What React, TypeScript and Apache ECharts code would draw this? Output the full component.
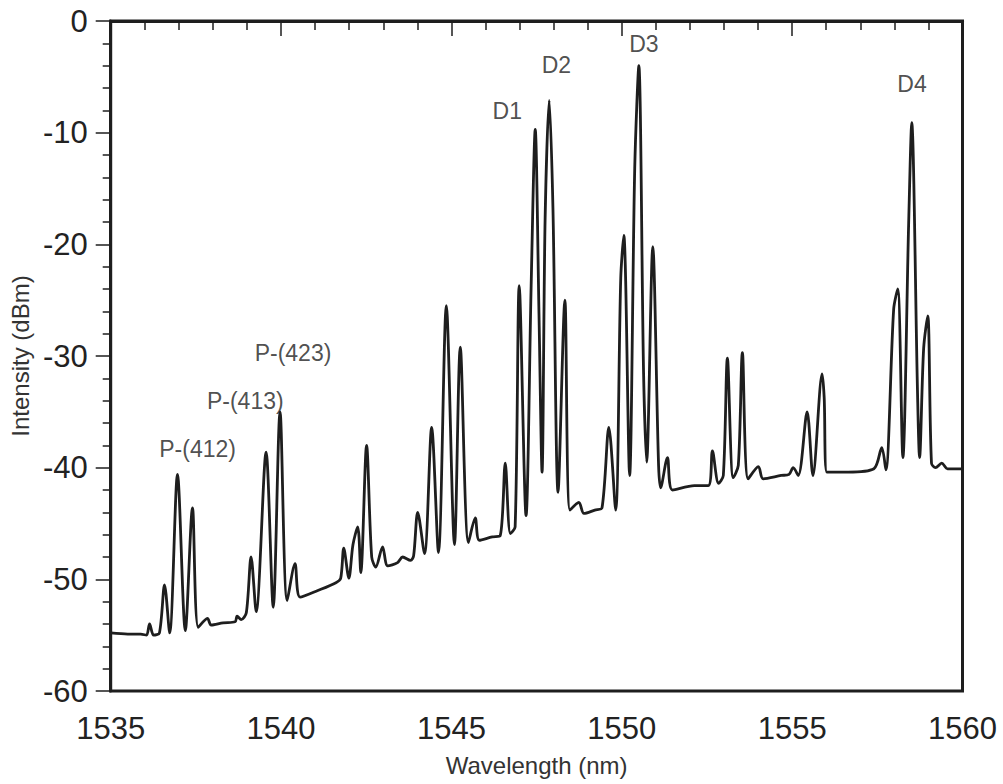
import React, { useEffect, useRef } from "react";
import * as echarts from "echarts";

// Spectrum trace (wavelength in nm, intensity in dBm)
const wavelengthNm = [
  1535.0, 1535.5, 1535.88, 1536.05, 1536.14, 1536.26, 1536.43, 1536.58, 1536.73, 1536.96,
  1537.19, 1537.4, 1537.57, 1537.84, 1537.95, 1538.3, 1538.65, 1538.71, 1538.83, 1538.98,
  1539.12, 1539.27, 1539.56, 1539.77, 1539.97, 1540.18, 1540.41, 1540.56, 1541.08, 1541.61,
  1541.75, 1541.84, 1541.99, 1542.11, 1542.25, 1542.34, 1542.51, 1542.66, 1542.78, 1542.98,
  1543.13, 1543.42, 1543.57, 1543.8, 1543.89, 1544.01, 1544.21, 1544.42, 1544.62, 1544.85,
  1545.09, 1545.26, 1545.5, 1545.7, 1545.82, 1546.2, 1546.43, 1546.58, 1546.73, 1546.87,
  1546.99, 1547.19, 1547.34, 1547.46, 1547.57, 1547.66, 1547.75, 1547.87, 1547.98, 1548.13,
  1548.33, 1548.48, 1548.74, 1548.89, 1549.21, 1549.42, 1549.62, 1549.82, 1549.97, 1550.06,
  1550.23, 1550.38, 1550.5, 1550.64, 1550.73, 1550.91, 1551.08, 1551.14, 1551.34, 1551.49,
  1552.13, 1552.54, 1552.66, 1552.84, 1552.98, 1553.1, 1553.27, 1553.42, 1553.54, 1553.71,
  1554.01, 1554.15, 1554.68, 1554.91, 1555.03, 1555.18, 1555.44, 1555.61, 1555.88, 1555.94,
  1556.02, 1556.64, 1557.4, 1557.63, 1557.75, 1557.98, 1558.1, 1558.25, 1558.42, 1558.51,
  1558.68, 1558.74, 1558.86, 1558.98, 1559.09, 1559.21, 1559.39, 1559.56, 1560.0,
];

const intensityDbm = [
  -54.8, -54.9, -54.9, -55.0, -54.0, -55.0, -54.8, -50.5, -54.8, -40.6,
  -54.6, -43.6, -54.3, -53.5, -54.1, -53.9, -53.8, -53.3, -53.6, -53.0,
  -48.0, -52.9, -38.6, -52.5, -35.0, -51.9, -48.6, -51.6, -51.0, -50.3,
  -49.9, -47.2, -49.9, -46.9, -45.3, -49.4, -38.0, -48.0, -48.9, -47.1,
  -48.8, -48.5, -48.0, -48.3, -47.9, -44.0, -47.7, -36.4, -47.6, -25.5,
  -46.9, -29.2, -46.7, -44.5, -46.5, -46.2, -46.1, -39.6, -45.9, -45.3,
  -23.7, -44.3, -23.7, -9.7, -26.2, -40.4, -17.7, -7.1, -16.8, -42.2,
  -25.0, -43.8, -43.1, -44.1, -43.8, -43.6, -36.4, -43.8, -23.0, -19.2,
  -40.7, -13.2, -4.0, -31.6, -39.5, -20.2, -39.8, -41.8, -39.1, -42.0,
  -41.6, -41.6, -38.5, -41.4, -40.7, -30.2, -40.9, -39.8, -29.7, -41.0,
  -39.9, -41.0, -40.7, -40.6, -40.0, -40.7, -35.0, -40.7, -31.6, -33.7,
  -40.4, -40.4, -40.1, -38.2, -40.2, -25.8, -24.0, -39.1, -18.1, -9.1,
  -33.3, -39.1, -29.3, -26.4, -39.6, -40.0, -39.6, -40.1, -40.1,
];

// Peak annotations
const annotationLabels = ["P-(412)", "P-(413)", "P-(423)", "D1", "D2", "D3", "D4"];
const annotationX = [1537.55, 1538.95, 1540.35, 1546.64, 1548.08, 1550.65, 1558.52];
const annotationY = [-38.3, -34.0, -29.7, -8.1, -3.9, -2.1, -5.6];

const FONT = "'Liberation Sans', Arial, Helvetica, sans-serif";
const INK = "#1e1e1e";

export default function App() {
  const ref = useRef<HTMLDivElement>(null);

  useEffect(() => {
    document.body.style.margin = "0";
    if (!ref.current) return;
    const chart = echarts.init(ref.current, undefined, { renderer: "svg" });

    const spectrum = wavelengthNm.map((w, i) => [w, intensityDbm[i]]);
    const notes = annotationLabels.map((t, i) => ({
      value: [annotationX[i], annotationY[i]],
      name: t,
    }));

    chart.setOption({
      animation: false,
      backgroundColor: "#ffffff",
      textStyle: { fontFamily: FONT },
      grid: {
        left: 108,
        right: 40.5,
        top: 21,
        bottom: 93,
        show: true,
        borderColor: INK,
        borderWidth: 3,
        backgroundColor: "transparent",
      },
      xAxis: {
        type: "value",
        min: 1535,
        max: 1560,
        interval: 5,
        name: "Wavelength (nm)",
        nameLocation: "middle",
        nameGap: 62,
        nameTextStyle: { fontSize: 24, color: "#333", fontFamily: FONT },
        axisLine: { show: true, lineStyle: { color: INK, width: 3 } },
        axisTick: { show: true, inside: false, length: 15, lineStyle: { color: INK, width: 1.5 } },
        minorTick: { show: true, splitNumber: 5, length: 9, lineStyle: { color: INK, width: 1.5 } },
        splitLine: { show: false },
        minorSplitLine: { show: false },
        axisLabel: {
          fontSize: 31,
          color: "#222",
          margin: 22,
          fontFamily: FONT,
          formatter: (v: number) => String(v),
        },
      },
      yAxis: {
        type: "value",
        min: -60,
        max: 0,
        interval: 10,
        name: "Intensity (dBm)",
        nameLocation: "middle",
        nameGap: 72,
        nameTextStyle: { fontSize: 24, color: "#333", fontFamily: FONT },
        axisLine: { show: true, lineStyle: { color: INK, width: 3 } },
        axisTick: { show: true, inside: false, length: 15, lineStyle: { color: INK, width: 1.5 } },
        minorTick: { show: true, splitNumber: 5, length: 8, lineStyle: { color: INK, width: 1.5 } },
        splitLine: { show: false },
        minorSplitLine: { show: false },
        axisLabel: { fontSize: 31, color: "#222", margin: 23, fontFamily: FONT },
      },
      series: [
        {
          type: "line",
          data: spectrum,
          showSymbol: false,
          symbol: "none",
          smooth: 0.3,
          lineStyle: { color: INK, width: 2.8, join: "round" },
          z: 3,
        },
        {
          type: "scatter",
          data: notes,
          symbolSize: 1,
          itemStyle: { color: "rgba(0,0,0,0)" },
          label: {
            show: true,
            position: "inside",
            formatter: (p: any) => p.name,
            fontSize: 23,
            color: "#222",
            fontFamily: FONT,
          },
          z: 4,
        },
      ],
    });

    return () => chart.dispose();
  }, []);

  return <div ref={ref} style={{ width: 1003, height: 784 }} />;
}
